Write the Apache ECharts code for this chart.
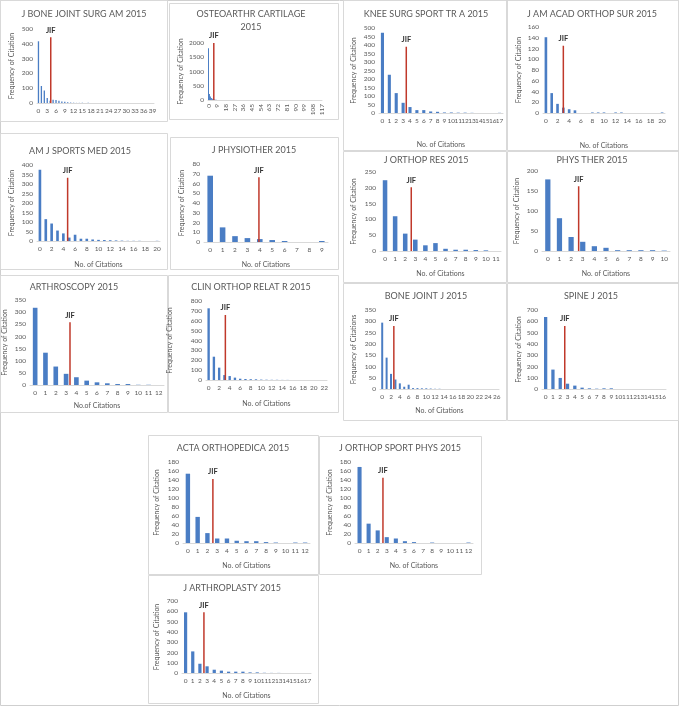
<!DOCTYPE html>
<html>
<head>
<meta charset="utf-8">
<script src="https://cdn.jsdelivr.net/npm/echarts@6.0.0/dist/echarts.min.js"></script>
<style>
html, body { margin: 0; padding: 0; background: #fff; }
#main { width: 679px; height: 706px; }
</style>
</head>
<body>
<div id="main"></div>
<script>
// frequency of articles by number of citations (index = no. of citations)
var jbjsAm = [417, 115, 84, 33, 15, 22, 20, 15, 10, 8, 5, 3, 2, 1, 1, 1, 0, 1, 0, 0,
    0, 0, 0, 0, 0, 0, 0, 0, 0, 0, 0, 0, 0, 0, 0, 0, 0, 0, 0, 0];
var osteoCart = [1818, 210, 120, 70, 40, 25, 15, 10, 6, 4, 3, 2, 2, 1, 1, 1, 0, 1, 0, 0,
    0, 0, 0, 0, 0, 0, 0, 0, 0, 0, 0, 0, 0, 0, 0, 0, 0, 0, 0, 0,
    0, 0, 0, 0, 0, 0, 0, 0, 0, 0, 0, 0, 0, 0, 0, 0, 0, 0, 0, 0,
    0, 0, 0, 0, 0, 0, 0, 0, 0, 0, 0, 0, 0, 0, 0, 0, 0, 0, 0, 0,
    0, 0, 0, 0, 0, 0, 0, 0, 0, 0, 0, 0, 0, 0, 0, 0, 0, 0, 0, 0,
    0, 0, 0, 0, 0, 0, 0, 0, 0, 0, 0, 0, 0, 0, 0, 0, 0, 1];
var kneeSurg = [472, 225, 117, 60, 35, 17, 17, 9, 7, 3, 3, 2, 2, 1, 0, 0, 0, 1];
var jAmAcad = [141, 37, 17, 10, 7, 5, 0, 0, 1, 1, 1, 0, 1, 1, 0, 0, 0, 0, 0, 0, 1];
var amJSports = [375, 115, 92, 55, 40, 18, 33, 12, 12, 8, 6, 5, 4, 3, 2, 1, 1, 1, 0, 0, 1];
var jPhysio = [68, 15, 6, 4, 3, 2, 1, 0, 0, 1];
var jOrthopRes = [224, 110, 55, 36, 18, 25, 7, 4, 4, 3, 2, 0];
var physTher = [179, 82, 35, 23, 12, 8, 2, 2, 2, 2, 1];
var arthroscopy = [318, 133, 76, 46, 32, 18, 11, 7, 4, 4, 1, 1, 0];
var clinOrthop = [726, 236, 125, 50, 40, 24, 13, 10, 8, 7, 4, 3, 2, 2, 1, 1, 0, 0, 0, 0, 0, 0, 0];
var boneJointJ = [294, 139, 67, 42, 25, 10, 19, 4, 4, 3, 3, 2, 1, 1, 0, 0, 0, 0, 0, 0, 0, 0, 0, 0, 0, 0, 0];
var spineJ = [638, 172, 98, 47, 30, 12, 6, 3, 6, 6, 0, 0, 0, 0, 0, 0, 0];
var actaOrthop = [154, 58, 22, 10, 10, 5, 4, 4, 2, 1, 0, 1, 1];
var jOrthopSport = [169, 43, 28, 13, 10, 4, 2, 0, 1, 0, 0, 0, 1];
var jArthroplasty = [590, 210, 90, 65, 32, 23, 13, 13, 13, 6, 6, 2, 1, 1, 0, 0, 0, 0];

// JIF marker: position on the citation axis and height of the red line
var jifX =   [4.2, 5.5, 3.46, 3.0, 4.73, 3.93, 2.6, 2.65, 3.38, 3.18, 2.64, 2.62, 2.56, 2.58, 2.56];
var jifTop = [444, 2000, 389, 125, 333, 66.5, 202, 162, 258, 659, 279, 558, 142, 145, 590];

var BLUE = '#4a7dc4';
var RED = '#c0392b';
var GREY = '#595959';
var FONT = 'Lato';

// box: panel frame, plot: [left, top, right, bottom], t: title centre, yn: y name x, xn: x name y
var panels = [
    {title: 'J BONE JOINT SURG AM 2015', data: jbjsAm, box: [0, 0, 168, 122], plot: [37, 29, 154, 103], max: 500, step: 100, t: [84, 14], yn: 15, every: 2},
    {title: 'OSTEOARTHR CARTILAGE\n2015', data: osteoCart, box: [169, 3, 170, 117], plot: [208, 43, 322, 100], max: 2000, step: 500, t: [251, 21], yn: 184, every: 8, rotate: 90},
    {title: 'KNEE SURG SPORT TR A 2015', data: kneeSurg, box: [343, 0, 164, 151], plot: [379, 28, 503, 113], max: 500, step: 50, t: [426, 14], yn: 357, xn: 141, every: 0},
    {title: 'J AM ACAD ORTHOP SUR 2015', data: jAmAcad, box: [507, 0, 172, 151], plot: [543, 27, 665, 113], max: 160, step: 20, t: [592, 14], yn: 522, xn: 142, every: 1},
    {title: 'AM J SPORTS MED 2015', data: amJSports, box: [0, 133, 168, 137], plot: [37, 165, 160, 241], max: 400, step: 50, t: [80, 151], yn: 15, xn: 261, every: 1},
    {title: 'J PHYSIOTHER 2015', data: jPhysio, box: [170, 137, 169, 133], plot: [204, 164, 328, 242], max: 80, step: 10, t: [254, 150], yn: 185, xn: 261, every: 0},
    {title: 'J ORTHOP RES 2015', data: jOrthopRes, box: [343, 151, 164, 132], plot: [380, 172, 501, 251], max: 250, step: 50, t: [426, 160], yn: 357, xn: 270, every: 0},
    {title: 'PHYS THER 2015', data: physTher, box: [507, 151, 172, 132], plot: [542, 171, 670, 251], max: 200, step: 50, t: [592, 160], yn: 520, xn: 270, every: 0},
    {title: 'ARTHROSCOPY 2015', data: arthroscopy, box: [0, 275, 168, 138], plot: [27, 300, 164, 385], max: 350, step: 50, t: [74, 287], yn: 5, xn: 402, xName: 'No.of Citations', every: 0},
    {title: 'CLIN ORTHOP RELAT R 2015', data: clinOrthop, box: [168, 275, 171, 138], plot: [206, 301, 327, 380], max: 800, step: 100, t: [251, 287], yn: 173, xn: 400, every: 1},
    {title: 'BONE JOINT J 2015', data: boneJointJ, box: [343, 283, 164, 138], plot: [380, 310, 499, 389], max: 350, step: 50, t: [426, 296], yn: 357, xn: 407, yName: 'Frequency of Citations', every: 1},
    {title: 'SPINE J 2015', data: spineJ, box: [507, 283, 172, 138], plot: [542, 310, 666, 389], max: 700, step: 100, t: [591, 296], yn: 522, every: 0},
    {title: 'ACTA ORTHOPEDICA 2015', data: actaOrthop, box: [148, 435, 171, 140], plot: [183, 462, 310, 543], max: 180, step: 20, t: [233, 448], yn: 160, xn: 562, every: 0},
    {title: 'J ORTHOP SPORT PHYS 2015', data: jOrthopSport, box: [319, 436, 163, 139], plot: [355, 462, 473, 543], max: 180, step: 20, t: [400, 448], yn: 333, xn: 562, every: 0},
    {title: 'J ARTHROPLASTY 2015', data: jArthroplasty, box: [148, 575, 171, 129], plot: [182, 601, 311, 673], max: 700, step: 100, t: [232, 588], yn: 160, xn: 692, every: 0}
];

var grids = [], xAxes = [], yAxes = [], series = [];
// outer frame of the whole figure
var graphics = [{
    type: 'rect', silent: true, z: -1,
    shape: {x: 0.5, y: 0.5, width: 678, height: 705},
    style: {fill: 'none', stroke: '#cfcfcf', lineWidth: 1}
}];

panels.forEach(function (p, i) {
    var n = p.data.length;
    var cats = p.data.map(function (v, k) { return String(k); });

    graphics.push({
        type: 'rect', silent: true, z: -1,
        shape: {x: p.box[0] + 0.5, y: p.box[1] + 0.5, width: p.box[2] - 1, height: p.box[3] - 1},
        style: {fill: 'none', stroke: '#d9d9d9', lineWidth: 1}
    });
    graphics.push({
        type: 'text', silent: true,
        x: p.t[0], y: p.t[1],
        style: {text: p.title, fill: GREY, font: '9px ' + FONT, align: 'center', verticalAlign: 'middle', lineHeight: 13}
    });

    grids.push({
        left: p.plot[0], top: p.plot[1],
        width: p.plot[2] - p.plot[0], height: p.plot[3] - p.plot[1]
    });

    xAxes.push({
        type: 'category', gridIndex: i, data: cats,
        axisLine: {lineStyle: {color: '#d9d9d9'}},
        axisTick: {show: false},
        axisLabel: {interval: p.every, rotate: p.rotate || 0, fontSize: 6.5, fontFamily: FONT, color: GREY, margin: 4},
        name: p.xn ? (p.xName || 'No. of Citations') : '',
        nameLocation: 'middle', nameGap: p.xn ? p.xn - p.plot[3] : 0,
        nameTextStyle: {fontSize: 7, fontFamily: FONT, color: GREY}
    });
    // hidden linear axis so the JIF line can sit between categories
    xAxes.push({type: 'value', gridIndex: i, min: -0.5, max: n - 0.5, show: false});

    yAxes.push({
        type: 'value', gridIndex: i, min: 0, max: p.max, interval: p.step,
        axisLine: {show: false}, axisTick: {show: false}, splitLine: {show: false},
        axisLabel: {fontSize: 6.5, fontFamily: FONT, color: GREY, margin: 4,
            formatter: function (v) { return String(v); }},
        name: p.yName || 'Frequency of Citation', nameLocation: 'middle',
        nameGap: p.plot[0] - p.yn,
        nameTextStyle: {fontSize: 7, fontFamily: FONT, color: GREY}
    });

    series.push({
        type: 'bar', xAxisIndex: 2 * i, yAxisIndex: i,
        data: p.data, barWidth: '45%',
        itemStyle: {color: BLUE}
    });
    series.push({
        type: 'line', xAxisIndex: 2 * i + 1, yAxisIndex: i,
        clip: false, symbol: 'circle', symbolSize: 0.1,
        lineStyle: {color: RED, width: 1.5},
        itemStyle: {color: RED},
        data: [
            [jifX[i], 0],
            {
                value: [jifX[i], jifTop[i]],
                label: {show: true, formatter: 'JIF', position: 'top', distance: 3,
                    fontSize: 7.5, fontWeight: 'bold', fontFamily: FONT, color: '#333'}
            }
        ]
    });
});

var chart = echarts.init(document.getElementById('main'));
chart.setOption({
    animation: false,
    backgroundColor: '#fff',
    grid: grids,
    xAxis: xAxes,
    yAxis: yAxes,
    series: series,
    graphic: graphics
});
</script>
</body>
</html>
